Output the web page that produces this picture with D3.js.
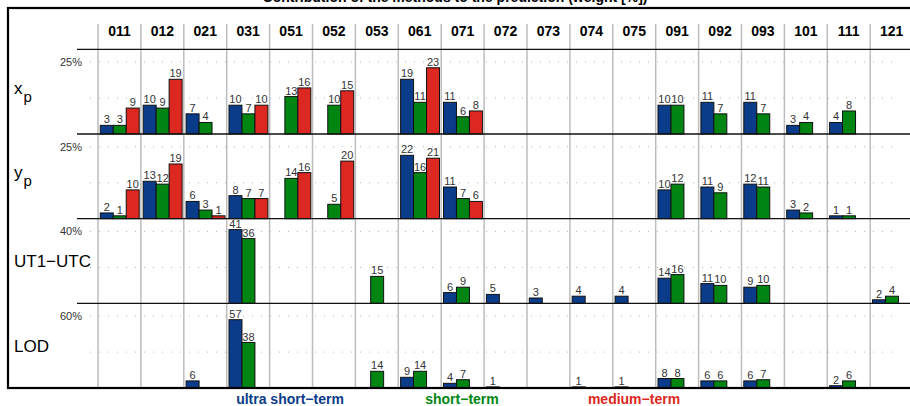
<!DOCTYPE html>
<html>
<head>
<meta charset="utf-8">
<script src="https://cdn.jsdelivr.net/npm/d3@7"></script>
<style>
  body { margin: 0; background: #fff; }
  svg { display: block; font-family: "Liberation Sans", Arial, sans-serif; }
</style>
</head>
<body>
<script>
// columns (prediction methods)
const columns = ["011","012","021","031","051","052","053","061","071","072","073","074","075","091","092","093","101","111","121"]
const groups = ["ultra short−term", "short−term", "medium−term"]
const colors = ["#0b3c8a", "#008512", "#dc2820"]

// weights in %, per row: [column, ultra, short, medium] (null = no bar)
const xpValues = [
  ["011", 3, 3, 9], ["012", 10, 9, 19], ["021", 7, 4, null], ["031", 10, 7, 10],
  ["051", null, 13, 16], ["052", null, 10, 15], ["061", 19, 11, 23], ["071", 11, 6, 8],
  ["091", 10, 10, null], ["092", 11, 7, null], ["093", 11, 7, null], ["101", 3, 4, null],
  ["111", 4, 8, null]
]
const ypValues = [
  ["011", 2, 1, 10], ["012", 13, 12, 19], ["021", 6, 3, 1], ["031", 8, 7, 7],
  ["051", null, 14, 16], ["052", null, 5, 20], ["061", 22, 16, 21], ["071", 11, 7, 6],
  ["091", 10, 12, null], ["092", 11, 9, null], ["093", 12, 11, null], ["101", 3, 2, null],
  ["111", 1, 1, null]
]
const ut1Values = [
  ["031", 41, 36, null], ["053", null, 15, null], ["071", 6, 9, null], ["072", 5, null, null],
  ["073", 3, null, null], ["074", 4, null, null], ["075", 4, null, null], ["091", 14, 16, null],
  ["092", 11, 10, null], ["093", 9, 10, null], ["121", 2, 4, null]
]
const lodValues = [
  ["021", 6, null, null], ["031", 57, 38, null], ["053", null, 14, null], ["061", 9, 14, null],
  ["071", 4, 7, null], ["072", 1, null, null], ["074", 1, null, null], ["075", 1, null, null],
  ["091", 8, 8, null], ["092", 6, 6, null], ["093", 6, 7, null], ["111", 2, 6, null]
]
const rowLabels = ["x", "y", "UT1−UTC", "LOD"]
const rowTicks = [25, 25, 40, 60]
const rowData = [xpValues, ypValues, ut1Values, lodValues]

const width = 910, height = 406
const svg = d3.select("body").append("svg").attr("width", width).attr("height", height)

const headerY = 49.3
const panelH = 84.7
const tickPx = 72

const x = d3.scaleBand().domain(columns).range([98, 98 + 19 * 42.9]).padding(0)
const xInner = d3.scaleBand().domain([0, 1, 2]).range([2.3, 41.2])

// title (clipped at top like the original)
svg.append("text")
  .attr("x", 455).attr("y", 2)
  .attr("text-anchor", "middle")
  .attr("font-size", 14).attr("font-weight", "bold")
  .text("Contribution of the methods to the prediction (weight [%])")

// column separators
svg.append("g").selectAll("line")
  .data(columns.slice(1).concat(["_start"]))
  .enter().append("line")
  .attr("x1", d => d === "_start" ? x.range()[0] : x(d))
  .attr("x2", d => d === "_start" ? x.range()[0] : x(d))
  .attr("y1", 24).attr("y2", 388)
  .attr("stroke", "#bdbdbd").attr("stroke-width", 1.5)

// header labels
svg.append("g").selectAll("text")
  .data(columns).enter().append("text")
  .attr("x", d => x(d) + x.bandwidth() / 2)
  .attr("y", 36)
  .attr("text-anchor", "middle")
  .attr("font-size", 14).attr("font-weight", "bold")
  .text(d => d)

svg.append("line")
  .attr("x1", 77).attr("x2", 912)
  .attr("y1", headerY).attr("y2", headerY)
  .attr("stroke", "#111").attr("stroke-width", 1.3)

rowData.forEach((rows, i) => {
  const base = headerY + (i + 1) * panelH
  const y = d3.scaleLinear().domain([0, rowTicks[i]]).range([base, base - tickPx])
  const g = svg.append("g")

  // dotted grid at tick and half tick
  g.selectAll("line.grid")
    .data([rowTicks[i], rowTicks[i] / 2])
    .enter().append("line")
    .attr("x1", 90).attr("x2", 893)
    .attr("y1", d => y(d)).attr("y2", d => y(d))
    .attr("stroke", "#b5b5b5").attr("stroke-width", 1)
    .attr("stroke-dasharray", "1,8")

  g.append("text")
    .attr("x", 82).attr("y", y(rowTicks[i]) + 4)
    .attr("text-anchor", "end")
    .attr("font-size", 11).attr("fill", "#333")
    .text(rowTicks[i] + "%")

  // row label
  const lab = g.append("text")
    .attr("x", 14).attr("y", base - panelH / 2 + 2)
    .attr("font-size", 17).attr("fill", "#000")
  if (i < 2) {
    lab.text(rowLabels[i])
    lab.append("tspan").attr("dy", 8).attr("dx", 1).attr("font-size", 15).text("p")
  } else {
    lab.attr("y", base - panelH / 2 + 6).text(rowLabels[i])
  }

  // bars
  const bars = []
  rows.forEach(r => {
    for (let k = 0; k < 3; k++) {
      if (r[k + 1] !== null) bars.push({ col: r[0], k: k, v: r[k + 1] })
    }
  })

  g.selectAll("rect")
    .data(bars).enter().append("rect")
    .attr("x", d => x(d.col) + xInner(d.k))
    .attr("y", d => y(d.v))
    .attr("width", xInner.bandwidth())
    .attr("height", d => base - y(d.v))
    .attr("fill", d => colors[d.k])
    .attr("stroke", "#111").attr("stroke-width", 1)

  g.selectAll("text.val")
    .data(bars).enter().append("text")
    .attr("class", "val")
    .attr("x", d => x(d.col) + xInner(d.k) + xInner.bandwidth() / 2)
    .attr("y", d => y(d.v) - 2)
    .attr("text-anchor", "middle")
    .attr("font-size", 11).attr("fill", "#333")
    .text(d => d.v)

  // baseline
  if (i < 3) {
    g.append("line")
      .attr("x1", 77).attr("x2", 912)
      .attr("y1", base).attr("y2", base)
      .attr("stroke", "#111").attr("stroke-width", 1.3)
  }
})

// outer frame
svg.append("rect")
  .attr("x", 8).attr("y", 8)
  .attr("width", 930).attr("height", 380)
  .attr("fill", "none").attr("stroke", "#000").attr("stroke-width", 2.2)

// group legend below
const legendX = [290, 462, 634]
svg.append("g").selectAll("text")
  .data(groups).enter().append("text")
  .attr("x", (d, i) => legendX[i])
  .attr("y", 404)
  .attr("text-anchor", "middle")
  .attr("font-size", 14).attr("font-weight", "bold")
  .attr("fill", (d, i) => colors[i])
  .text(d => d)
</script>
</body>
</html>
